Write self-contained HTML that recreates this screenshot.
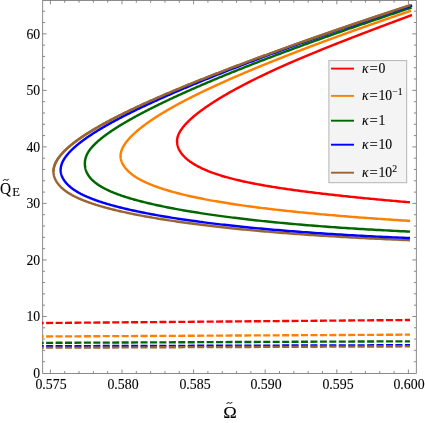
<!DOCTYPE html>
<html><head><meta charset="utf-8"><title>plot</title>
<style>
html,body{margin:0;padding:0;background:#fff;}
body{width:425px;height:423px;position:relative;overflow:hidden;font-family:"Liberation Serif",serif;color:#000;}
.t,.lg{will-change:transform;-webkit-text-stroke:0.1px #000;}
.t{position:absolute;white-space:nowrap;line-height:1;font-size:13.7px;}
.yl{text-align:right;width:40.1px;left:0;}
.xl{text-align:center;width:60px;font-size:13.85px;}
.lg{position:absolute;white-space:nowrap;line-height:1;font-size:13.7px;left:362px;}
.lg i{font-style:italic;}
.lg .eq{display:inline-block;margin:0 1.2px 0 1.0px;transform:scaleX(1.07);transform-origin:100% 50%;}
.lg sup{font-size:9.7px;position:relative;top:-0.1em;vertical-align:baseline;line-height:0;}
</style></head><body>
<svg width="425" height="423" viewBox="0 0 425 423" style="position:absolute;left:0;top:0">
<rect width="425" height="423" fill="#fff"/>
<clipPath id="cp"><rect x="42.0" y="0" width="374.6" height="373.45"/></clipPath>
<g stroke="#6e6e6e" stroke-width="0.8" fill="none">
<rect x="42.7" y="0.4" width="373.6" height="373.05"/>
<path d="M50.40,373.45 v-4.0 M50.40,0.4 v4.0 M64.72,373.45 v-2.4 M64.72,0.4 v2.4 M79.04,373.45 v-2.4 M79.04,0.4 v2.4 M93.36,373.45 v-2.4 M93.36,0.4 v2.4 M107.68,373.45 v-2.4 M107.68,0.4 v2.4 M122.00,373.45 v-4.0 M122.00,0.4 v4.0 M136.32,373.45 v-2.4 M136.32,0.4 v2.4 M150.64,373.45 v-2.4 M150.64,0.4 v2.4 M164.96,373.45 v-2.4 M164.96,0.4 v2.4 M179.28,373.45 v-2.4 M179.28,0.4 v2.4 M193.60,373.45 v-4.0 M193.60,0.4 v4.0 M207.92,373.45 v-2.4 M207.92,0.4 v2.4 M222.24,373.45 v-2.4 M222.24,0.4 v2.4 M236.56,373.45 v-2.4 M236.56,0.4 v2.4 M250.88,373.45 v-2.4 M250.88,0.4 v2.4 M265.20,373.45 v-4.0 M265.20,0.4 v4.0 M279.52,373.45 v-2.4 M279.52,0.4 v2.4 M293.84,373.45 v-2.4 M293.84,0.4 v2.4 M308.16,373.45 v-2.4 M308.16,0.4 v2.4 M322.48,373.45 v-2.4 M322.48,0.4 v2.4 M336.80,373.45 v-4.0 M336.80,0.4 v4.0 M351.12,373.45 v-2.4 M351.12,0.4 v2.4 M365.44,373.45 v-2.4 M365.44,0.4 v2.4 M379.76,373.45 v-2.4 M379.76,0.4 v2.4 M394.08,373.45 v-2.4 M394.08,0.4 v2.4 M408.40,373.45 v-4.0 M408.40,0.4 v4.0 M42.7,361.69 h2.4 M416.3,361.69 h-2.4 M42.7,350.39 h2.4 M416.3,350.39 h-2.4 M42.7,339.08 h2.4 M416.3,339.08 h-2.4 M42.7,327.78 h2.4 M416.3,327.78 h-2.4 M42.7,316.47 h4.0 M416.3,316.47 h-4.0 M42.7,305.16 h2.4 M416.3,305.16 h-2.4 M42.7,293.86 h2.4 M416.3,293.86 h-2.4 M42.7,282.55 h2.4 M416.3,282.55 h-2.4 M42.7,271.25 h2.4 M416.3,271.25 h-2.4 M42.7,259.94 h4.0 M416.3,259.94 h-4.0 M42.7,248.63 h2.4 M416.3,248.63 h-2.4 M42.7,237.33 h2.4 M416.3,237.33 h-2.4 M42.7,226.02 h2.4 M416.3,226.02 h-2.4 M42.7,214.72 h2.4 M416.3,214.72 h-2.4 M42.7,203.41 h4.0 M416.3,203.41 h-4.0 M42.7,192.10 h2.4 M416.3,192.10 h-2.4 M42.7,180.80 h2.4 M416.3,180.80 h-2.4 M42.7,169.49 h2.4 M416.3,169.49 h-2.4 M42.7,158.19 h2.4 M416.3,158.19 h-2.4 M42.7,146.88 h4.0 M416.3,146.88 h-4.0 M42.7,135.57 h2.4 M416.3,135.57 h-2.4 M42.7,124.27 h2.4 M416.3,124.27 h-2.4 M42.7,112.96 h2.4 M416.3,112.96 h-2.4 M42.7,101.66 h2.4 M416.3,101.66 h-2.4 M42.7,90.35 h4.0 M416.3,90.35 h-4.0 M42.7,79.04 h2.4 M416.3,79.04 h-2.4 M42.7,67.74 h2.4 M416.3,67.74 h-2.4 M42.7,56.43 h2.4 M416.3,56.43 h-2.4 M42.7,45.13 h2.4 M416.3,45.13 h-2.4 M42.7,33.82 h4.0 M416.3,33.82 h-4.0 M42.7,22.51 h2.4 M416.3,22.51 h-2.4 M42.7,11.21 h2.4 M416.3,11.21 h-2.4"/>
</g>
<g fill="none" stroke-width="2.45" stroke-linejoin="round" clip-path="url(#cp)">
<path d="M411.97,15.02 L410.90,15.42 L409.83,15.82 L408.76,16.21 L407.69,16.61 L406.63,17.00 L405.56,17.40 L404.49,17.80 L403.43,18.19 L402.36,18.59 L401.30,18.98 L400.24,19.38 L399.18,19.77 L398.12,20.17 L397.06,20.56 L396.01,20.95 L394.95,21.35 L393.90,21.74 L392.84,22.13 L391.79,22.53 L390.74,22.92 L389.69,23.31 L388.64,23.71 L387.59,24.10 L386.55,24.49 L385.50,24.88 L384.46,25.28 L383.41,25.67 L382.37,26.06 L381.33,26.45 L380.29,26.84 L379.26,27.23 L378.22,27.62 L377.19,28.01 L376.15,28.40 L375.12,28.79 L374.09,29.19 L373.06,29.57 L372.03,29.96 L371.01,30.35 L369.98,30.74 L368.96,31.13 L367.94,31.52 L366.92,31.91 L365.90,32.30 L364.88,32.69 L363.86,33.08 L362.85,33.46 L361.84,33.85 L360.82,34.24 L359.81,34.63 L358.81,35.01 L357.80,35.40 L356.79,35.79 L355.79,36.18 L354.79,36.56 L353.79,36.95 L352.79,37.34 L351.79,37.72 L350.79,38.11 L349.80,38.49 L348.81,38.88 L347.82,39.26 L346.83,39.65 L345.84,40.04 L344.86,40.42 L343.87,40.81 L342.89,41.19 L341.91,41.57 L340.93,41.96 L339.95,42.34 L338.98,42.73 L338.01,43.11 L337.03,43.49 L336.06,43.88 L335.10,44.26 L334.13,44.64 L333.17,45.03 L332.20,45.41 L331.24,45.79 L330.29,46.17 L329.33,46.56 L328.37,46.94 L327.42,47.32 L326.47,47.70 L325.52,48.08 L324.58,48.47 L323.63,48.85 L322.69,49.23 L321.75,49.61 L320.81,49.99 L319.87,50.37 L318.94,50.75 L318.00,51.13 L317.07,51.51 L316.14,51.89 L315.22,52.27 L314.29,52.65 L313.37,53.03 L312.45,53.41 L311.53,53.79 L310.62,54.17 L309.70,54.55 L308.79,54.93 L307.88,55.31 L306.97,55.68 L306.07,56.06 L305.17,56.44 L304.26,56.82 L303.37,57.20 L302.47,57.57 L301.58,57.95 L300.68,58.33 L299.79,58.71 L298.91,59.08 L298.02,59.46 L297.14,59.84 L296.26,60.21 L295.38,60.59 L294.51,60.97 L293.63,61.34 L292.76,61.72 L291.89,62.10 L291.03,62.47 L290.16,62.85 L289.30,63.22 L288.44,63.60 L287.59,63.97 L286.73,64.35 L285.88,64.72 L285.03,65.10 L284.18,65.47 L283.34,65.85 L282.50,66.22 L281.66,66.59 L280.82,66.97 L279.99,67.34 L279.16,67.72 L278.33,68.09 L277.50,68.46 L276.68,68.84 L275.86,69.21 L275.04,69.58 L274.22,69.96 L273.41,70.33 L272.60,70.70 L271.79,71.07 L270.98,71.45 L270.18,71.82 L269.38,72.19 L268.58,72.56 L267.79,72.94 L267.00,73.31 L266.21,73.68 L265.42,74.05 L264.64,74.42 L263.85,74.79 L263.08,75.16 L262.30,75.53 L261.53,75.91 L260.76,76.28 L259.99,76.65 L259.23,77.02 L258.46,77.39 L257.71,77.76 L256.95,78.13 L256.20,78.50 L255.45,78.87 L254.70,79.24 L253.95,79.61 L253.21,79.98 L252.47,80.34 L251.74,80.71 L251.00,81.08 L250.27,81.45 L249.55,81.82 L248.82,82.19 L248.10,82.56 L247.38,82.92 L246.67,83.29 L245.95,83.66 L245.24,84.03 L244.53,84.39 L243.83,84.76 L243.13,85.13 L242.43,85.49 L241.73,85.86 L241.04,86.23 L240.35,86.59 L239.67,86.96 L238.98,87.32 L238.30,87.69 L237.62,88.05 L236.95,88.42 L236.28,88.78 L235.61,89.15 L234.94,89.51 L234.28,89.88 L233.62,90.24 L232.96,90.60 L232.31,90.97 L231.66,91.33 L231.01,91.69 L230.36,92.05 L229.72,92.42 L229.08,92.78 L228.45,93.14 L227.82,93.50 L227.19,93.86 L226.56,94.22 L225.94,94.58 L225.32,94.94 L224.70,95.30 L224.09,95.66 L223.48,96.02 L222.87,96.38 L222.26,96.74 L221.66,97.10 L221.07,97.46 L220.47,97.82 L219.88,98.17 L219.29,98.53 L218.71,98.89 L218.13,99.25 L217.55,99.60 L216.97,99.96 L216.40,100.31 L215.83,100.67 L215.27,101.02 L214.71,101.38 L214.15,101.73 L213.59,102.09 L213.04,102.44 L212.49,102.79 L211.95,103.15 L211.41,103.50 L210.87,103.85 L210.33,104.21 L209.80,104.56 L209.28,104.91 L208.75,105.26 L208.23,105.61 L207.72,105.96 L207.20,106.31 L206.69,106.66 L206.19,107.01 L205.68,107.36 L205.18,107.71 L204.69,108.05 L204.20,108.40 L203.71,108.75 L203.22,109.10 L202.74,109.44 L202.27,109.79 L201.79,110.13 L201.32,110.48 L200.86,110.82 L200.40,111.17 L199.94,111.51 L199.48,111.86 L199.03,112.20 L198.59,112.54 L198.14,112.88 L197.70,113.23 L197.27,113.57 L196.84,113.91 L196.41,114.25 L195.99,114.59 L195.57,114.93 L195.15,115.27 L194.74,115.61 L194.34,115.94 L193.93,116.28 L193.53,116.62 L193.14,116.96 L192.75,117.29 L192.36,117.63 L191.98,117.96 L191.60,118.30 L191.23,118.63 L190.86,118.97 L190.49,119.30 L190.13,119.63 L189.77,119.97 L189.42,120.30 L189.07,120.63 L188.73,120.96 L188.39,121.29 L188.05,121.62 L187.72,121.95 L187.40,122.28 L187.08,122.61 L186.76,122.94 L186.45,123.26 L186.14,123.59 L185.84,123.92 L185.54,124.24 L185.24,124.57 L184.95,124.89 L184.67,125.22 L184.39,125.54 L184.11,125.87 L183.84,126.19 L183.58,126.51 L183.32,126.83 L183.06,127.15 L182.81,127.47 L182.56,127.79 L182.32,128.11 L182.08,128.43 L181.85,128.75 L181.63,129.07 L181.41,129.38 L181.19,129.70 L180.98,130.02 L180.77,130.33 L180.57,130.65 L180.38,130.96 L180.19,131.27 L180.00,131.59 L179.82,131.90 L179.65,132.21 L179.48,132.52 L179.31,132.83 L179.16,133.14 L179.00,133.45 L178.86,133.76 L178.71,134.07 L178.58,134.38 L178.45,134.68 L178.32,134.99 L178.20,135.30 L178.09,135.60 L177.98,135.90 L177.88,136.21 L177.78,136.51 L177.69,136.81 L177.61,137.12 L177.53,137.42 L177.45,137.72 L177.39,138.02 L177.33,138.32 L177.27,138.61 L177.22,138.91 L177.18,139.21 L177.14,139.51 L177.11,139.81 L177.09,140.11 L177.07,140.41 L177.06,140.71 L177.05,141.01 L177.05,141.32 L177.06,141.62 L177.07,141.92 L177.08,142.23 L177.11,142.54 L177.14,142.85 L177.17,143.16 L177.21,143.47 L177.25,143.78 L177.30,144.09 L177.36,144.40 L177.42,144.71 L177.49,145.03 L177.56,145.34 L177.64,145.65 L177.72,145.97 L177.81,146.28 L177.90,146.59 L178.00,146.91 L178.11,147.22 L178.22,147.53 L178.33,147.84 L178.45,148.15 L178.58,148.46 L178.72,148.77 L178.85,149.08 L179.00,149.39 L179.15,149.70 L179.31,150.00 L179.47,150.31 L179.64,150.62 L179.81,150.92 L180.00,151.23 L180.18,151.54 L180.38,151.84 L180.57,152.15 L180.78,152.45 L180.99,152.75 L181.21,153.06 L181.43,153.36 L181.66,153.67 L181.90,153.97 L182.14,154.27 L182.39,154.57 L182.64,154.88 L182.91,155.18 L183.17,155.48 L183.45,155.78 L183.73,156.08 L184.01,156.38 L184.31,156.68 L184.61,156.98 L184.91,157.28 L185.23,157.58 L185.55,157.88 L185.87,158.18 L186.21,158.48 L186.55,158.77 L186.89,159.07 L187.25,159.37 L187.61,159.66 L187.97,159.96 L188.35,160.25 L188.73,160.55 L189.12,160.84 L189.51,161.14 L189.91,161.43 L190.32,161.72 L190.74,162.02 L191.16,162.31 L191.59,162.60 L192.03,162.89 L192.47,163.18 L192.93,163.47 L193.38,163.76 L193.85,164.05 L194.32,164.33 L194.81,164.62 L195.29,164.91 L195.79,165.19 L196.29,165.48 L196.80,165.76 L197.32,166.05 L197.85,166.33 L198.38,166.61 L198.92,166.89 L199.47,167.17 L200.03,167.45 L200.60,167.73 L201.17,168.01 L201.75,168.29 L202.34,168.57 L202.93,168.84 L203.54,169.12 L204.15,169.39 L204.77,169.67 L205.40,169.94 L206.04,170.21 L206.68,170.48 L207.33,170.75 L207.99,171.02 L208.66,171.29 L209.34,171.56 L210.03,171.83 L210.72,172.09 L211.43,172.36 L212.14,172.62 L212.86,172.88 L213.59,173.14 L214.32,173.40 L215.07,173.66 L215.83,173.92 L216.59,174.18 L217.36,174.44 L218.14,174.69 L218.93,174.95 L219.73,175.20 L220.54,175.45 L221.36,175.71 L222.18,175.96 L223.02,176.21 L223.86,176.45 L224.72,176.70 L225.58,176.95 L226.45,177.19 L227.33,177.44 L228.22,177.68 L229.12,177.92 L230.03,178.17 L230.95,178.41 L231.87,178.65 L232.81,178.88 L233.76,179.12 L234.71,179.36 L235.68,179.59 L236.65,179.83 L237.63,180.06 L238.63,180.30 L239.63,180.53 L240.64,180.76 L241.66,180.99 L242.69,181.22 L243.73,181.45 L244.78,181.68 L245.84,181.90 L246.91,182.13 L247.99,182.36 L249.08,182.58 L250.18,182.80 L251.28,183.03 L252.40,183.25 L253.53,183.47 L254.67,183.69 L255.81,183.91 L256.97,184.13 L258.14,184.35 L259.31,184.57 L260.50,184.78 L261.69,185.00 L262.90,185.21 L264.11,185.43 L265.34,185.64 L266.57,185.86 L267.82,186.07 L269.07,186.28 L270.34,186.49 L271.61,186.70 L272.90,186.91 L274.19,187.12 L275.50,187.33 L276.81,187.54 L278.14,187.74 L279.47,187.95 L280.81,188.15 L282.17,188.36 L283.53,188.56 L284.91,188.77 L286.29,188.97 L287.69,189.17 L289.09,189.38 L290.50,189.58 L291.93,189.78 L293.36,189.98 L294.81,190.18 L296.26,190.38 L297.73,190.58 L299.20,190.78 L300.68,190.97 L302.18,191.17 L303.68,191.37 L305.20,191.56 L306.72,191.76 L308.26,191.95 L309.80,192.15 L311.36,192.34 L312.92,192.54 L314.49,192.73 L316.08,192.92 L317.67,193.12 L319.28,193.31 L320.89,193.50 L322.52,193.69 L324.15,193.88 L325.80,194.07 L327.45,194.26 L329.12,194.45 L330.79,194.64 L332.47,194.83 L334.17,195.02 L335.87,195.20 L337.59,195.39 L339.31,195.58 L341.05,195.77 L342.79,195.95 L344.54,196.14 L346.31,196.33 L348.08,196.51 L349.86,196.70 L351.66,196.88 L353.46,197.07 L355.27,197.25 L357.10,197.44 L358.93,197.62 L360.77,197.80 L362.62,197.99 L364.48,198.17 L366.36,198.35 L368.24,198.54 L370.13,198.72 L372.03,198.90 L373.94,199.08 L375.86,199.26 L377.79,199.45 L379.73,199.63 L381.68,199.81 L383.63,199.99 L385.60,200.17 L387.58,200.35 L389.57,200.53 L391.56,200.71 L393.57,200.89 L395.58,201.07 L397.61,201.25 L399.64,201.43 L401.68,201.61 L403.74,201.79 L405.80,201.97 L407.87,202.15 L409.95,202.33" stroke="#ff0000"/>
<path d="M410.98,10.76 L409.66,11.21 L408.35,11.65 L407.03,12.10 L405.72,12.54 L404.41,12.99 L403.10,13.43 L401.79,13.88 L400.49,14.32 L399.18,14.76 L397.88,15.21 L396.58,15.65 L395.29,16.10 L393.99,16.54 L392.70,16.99 L391.41,17.43 L390.12,17.87 L388.83,18.32 L387.54,18.76 L386.26,19.20 L384.98,19.65 L383.70,20.09 L382.42,20.53 L381.15,20.98 L379.87,21.42 L378.60,21.86 L377.33,22.31 L376.07,22.75 L374.80,23.19 L373.54,23.63 L372.28,24.08 L371.02,24.52 L369.76,24.96 L368.50,25.40 L367.25,25.84 L366.00,26.28 L364.75,26.73 L363.50,27.17 L362.26,27.61 L361.02,28.05 L359.78,28.49 L358.54,28.93 L357.30,29.37 L356.07,29.81 L354.83,30.25 L353.60,30.69 L352.37,31.13 L351.15,31.57 L349.92,32.01 L348.70,32.45 L347.48,32.89 L346.26,33.33 L345.05,33.77 L343.84,34.21 L342.62,34.65 L341.41,35.09 L340.21,35.53 L339.00,35.97 L337.80,36.40 L336.60,36.84 L335.40,37.28 L334.20,37.72 L333.01,38.16 L331.82,38.59 L330.63,39.03 L329.44,39.47 L328.25,39.91 L327.07,40.34 L325.89,40.78 L324.71,41.22 L323.53,41.65 L322.36,42.09 L321.19,42.53 L320.02,42.96 L318.85,43.40 L317.68,43.84 L316.52,44.27 L315.36,44.71 L314.20,45.14 L313.04,45.58 L311.89,46.01 L310.74,46.45 L309.59,46.88 L308.44,47.32 L307.30,47.75 L306.15,48.19 L305.01,48.62 L303.87,49.05 L302.74,49.49 L301.60,49.92 L300.47,50.35 L299.34,50.79 L298.22,51.22 L297.09,51.65 L295.97,52.09 L294.85,52.52 L293.73,52.95 L292.62,53.38 L291.51,53.81 L290.40,54.25 L289.29,54.68 L288.18,55.11 L287.08,55.54 L285.98,55.97 L284.88,56.40 L283.79,56.83 L282.69,57.27 L281.60,57.70 L280.51,58.13 L279.43,58.56 L278.34,58.99 L277.26,59.42 L276.18,59.85 L275.11,60.27 L274.03,60.70 L272.96,61.13 L271.89,61.56 L270.83,61.99 L269.76,62.42 L268.70,62.85 L267.64,63.28 L266.59,63.70 L265.53,64.13 L264.48,64.56 L263.43,64.99 L262.39,65.41 L261.34,65.84 L260.30,66.27 L259.26,66.69 L258.23,67.12 L257.19,67.55 L256.16,67.97 L255.14,68.40 L254.11,68.83 L253.09,69.25 L252.07,69.68 L251.05,70.10 L250.04,70.53 L249.02,70.95 L248.01,71.38 L247.01,71.80 L246.00,72.23 L245.00,72.65 L244.00,73.07 L243.01,73.50 L242.02,73.92 L241.03,74.34 L240.04,74.77 L239.05,75.19 L238.07,75.61 L237.09,76.03 L236.12,76.46 L235.14,76.88 L234.17,77.30 L233.21,77.72 L232.24,78.14 L231.28,78.57 L230.32,78.99 L229.37,79.41 L228.41,79.83 L227.46,80.25 L226.52,80.67 L225.57,81.09 L224.63,81.51 L223.69,81.93 L222.76,82.35 L221.83,82.77 L220.90,83.19 L219.97,83.61 L219.05,84.02 L218.13,84.44 L217.21,84.86 L216.30,85.28 L215.39,85.70 L214.48,86.11 L213.58,86.53 L212.68,86.95 L211.78,87.36 L210.89,87.78 L210.00,88.20 L209.11,88.61 L208.23,89.03 L207.35,89.44 L206.47,89.86 L205.59,90.27 L204.72,90.69 L203.86,91.10 L202.99,91.52 L202.13,91.93 L201.27,92.35 L200.42,92.76 L199.57,93.17 L198.72,93.59 L197.88,94.00 L197.04,94.41 L196.20,94.82 L195.37,95.24 L194.54,95.65 L193.71,96.06 L192.89,96.47 L192.07,96.88 L191.26,97.29 L190.45,97.70 L189.64,98.11 L188.83,98.52 L188.03,98.93 L187.24,99.34 L186.44,99.75 L185.65,100.16 L184.87,100.57 L184.09,100.98 L183.31,101.38 L182.53,101.79 L181.76,102.20 L181.00,102.61 L180.23,103.01 L179.48,103.42 L178.72,103.83 L177.97,104.23 L177.22,104.64 L176.48,105.04 L175.74,105.45 L175.00,105.85 L174.27,106.26 L173.55,106.66 L172.82,107.06 L172.10,107.47 L171.39,107.87 L170.68,108.27 L169.97,108.68 L169.27,109.08 L168.57,109.48 L167.87,109.88 L167.18,110.28 L166.50,110.69 L165.82,111.09 L165.14,111.49 L164.47,111.89 L163.80,112.29 L163.13,112.69 L162.47,113.09 L161.81,113.48 L161.16,113.88 L160.51,114.28 L159.87,114.68 L159.23,115.08 L158.60,115.47 L157.97,115.87 L157.34,116.27 L156.72,116.66 L156.11,117.06 L155.49,117.46 L154.89,117.85 L154.28,118.25 L153.68,118.64 L153.09,119.03 L152.50,119.43 L151.92,119.82 L151.33,120.21 L150.76,120.61 L150.19,121.00 L149.62,121.39 L149.06,121.78 L148.50,122.17 L147.95,122.56 L147.40,122.95 L146.86,123.34 L146.32,123.73 L145.79,124.12 L145.26,124.51 L144.73,124.90 L144.21,125.28 L143.70,125.67 L143.19,126.06 L142.68,126.44 L142.18,126.83 L141.69,127.21 L141.20,127.60 L140.71,127.98 L140.23,128.37 L139.76,128.75 L139.29,129.13 L138.82,129.52 L138.36,129.90 L137.91,130.28 L137.46,130.66 L137.01,131.04 L136.57,131.42 L136.14,131.80 L135.71,132.18 L135.29,132.56 L134.87,132.93 L134.45,133.31 L134.05,133.69 L133.64,134.06 L133.25,134.44 L132.85,134.81 L132.47,135.19 L132.09,135.56 L131.71,135.93 L131.34,136.31 L130.98,136.68 L130.62,137.05 L130.26,137.42 L129.92,137.79 L129.58,138.16 L129.24,138.53 L128.91,138.90 L128.58,139.27 L128.27,139.63 L127.95,140.00 L127.65,140.37 L127.34,140.73 L127.05,141.10 L126.76,141.46 L126.48,141.83 L126.20,142.19 L125.93,142.55 L125.66,142.91 L125.40,143.27 L125.15,143.63 L124.91,143.99 L124.67,144.35 L124.43,144.71 L124.21,145.07 L123.98,145.43 L123.77,145.78 L123.56,146.14 L123.36,146.49 L123.17,146.85 L122.98,147.20 L122.80,147.55 L122.62,147.91 L122.45,148.26 L122.29,148.61 L122.14,148.96 L121.99,149.31 L121.85,149.65 L121.71,150.00 L121.59,150.35 L121.47,150.70 L121.36,151.04 L121.25,151.39 L121.15,151.73 L121.06,152.07 L120.98,152.42 L120.90,152.76 L120.83,153.10 L120.77,153.44 L120.72,153.78 L120.67,154.12 L120.63,154.46 L120.60,154.80 L120.58,155.14 L120.56,155.47 L120.55,155.81 L120.55,156.15 L120.56,156.49 L120.57,156.82 L120.60,157.16 L120.63,157.50 L120.66,157.83 L120.71,158.17 L120.76,158.51 L120.82,158.84 L120.89,159.18 L120.97,159.51 L121.06,159.85 L121.15,160.19 L121.25,160.52 L121.36,160.86 L121.47,161.19 L121.59,161.53 L121.72,161.87 L121.86,162.21 L122.01,162.54 L122.16,162.88 L122.32,163.22 L122.49,163.56 L122.67,163.90 L122.85,164.24 L123.04,164.57 L123.24,164.91 L123.45,165.25 L123.66,165.59 L123.88,165.93 L124.11,166.27 L124.34,166.61 L124.59,166.95 L124.84,167.29 L125.10,167.63 L125.36,167.97 L125.63,168.31 L125.92,168.65 L126.20,168.99 L126.50,169.32 L126.81,169.66 L127.12,170.00 L127.44,170.34 L127.76,170.67 L128.10,171.01 L128.44,171.34 L128.80,171.68 L129.16,172.01 L129.52,172.35 L129.90,172.68 L130.28,173.01 L130.68,173.35 L131.08,173.68 L131.49,174.01 L131.90,174.34 L132.33,174.67 L132.77,174.99 L133.21,175.32 L133.66,175.65 L134.12,175.97 L134.60,176.29 L135.08,176.62 L135.56,176.94 L136.06,177.26 L136.57,177.58 L137.09,177.90 L137.62,178.21 L138.15,178.53 L138.70,178.84 L139.25,179.16 L139.82,179.47 L140.40,179.78 L140.98,180.09 L141.58,180.40 L142.18,180.71 L142.80,181.01 L143.42,181.32 L144.06,181.63 L144.70,181.93 L145.36,182.23 L146.02,182.54 L146.70,182.84 L147.38,183.14 L148.08,183.44 L148.78,183.74 L149.50,184.04 L150.22,184.33 L150.96,184.63 L151.70,184.93 L152.46,185.23 L153.22,185.52 L154.00,185.82 L154.78,186.11 L155.58,186.40 L156.39,186.70 L157.20,186.99 L158.03,187.28 L158.87,187.57 L159.71,187.87 L160.57,188.16 L161.44,188.44 L162.32,188.73 L163.21,189.02 L164.11,189.31 L165.02,189.60 L165.94,189.88 L166.87,190.17 L167.82,190.45 L168.77,190.73 L169.73,191.02 L170.71,191.30 L171.70,191.58 L172.69,191.86 L173.70,192.14 L174.72,192.42 L175.75,192.69 L176.79,192.97 L177.85,193.25 L178.91,193.52 L179.99,193.80 L181.07,194.07 L182.17,194.34 L183.28,194.61 L184.40,194.88 L185.54,195.15 L186.68,195.42 L187.84,195.69 L189.00,195.95 L190.18,196.22 L191.37,196.48 L192.57,196.75 L193.79,197.01 L195.01,197.27 L196.25,197.53 L197.50,197.79 L198.76,198.05 L200.03,198.31 L201.32,198.56 L202.62,198.82 L203.93,199.08 L205.25,199.33 L206.58,199.58 L207.92,199.84 L209.28,200.09 L210.65,200.34 L212.03,200.59 L213.42,200.84 L214.83,201.09 L216.25,201.33 L217.68,201.58 L219.12,201.82 L220.57,202.07 L222.04,202.31 L223.52,202.55 L225.01,202.80 L226.51,203.04 L228.03,203.28 L229.56,203.52 L231.10,203.75 L232.66,203.99 L234.22,204.23 L235.80,204.46 L237.39,204.70 L239.00,204.93 L240.61,205.16 L242.24,205.40 L243.89,205.63 L245.54,205.86 L247.21,206.09 L248.89,206.32 L250.58,206.54 L252.29,206.77 L254.01,207.00 L255.74,207.22 L257.49,207.45 L259.25,207.67 L261.02,207.89 L262.80,208.11 L264.60,208.33 L266.41,208.55 L268.23,208.77 L270.07,208.99 L271.92,209.21 L273.78,209.43 L275.65,209.64 L277.54,209.86 L279.44,210.07 L281.36,210.28 L283.29,210.50 L285.23,210.71 L287.18,210.92 L289.15,211.13 L291.13,211.34 L293.13,211.54 L295.13,211.75 L297.16,211.96 L299.19,212.16 L301.24,212.37 L303.30,212.57 L305.37,212.78 L307.46,212.98 L309.56,213.18 L311.68,213.38 L313.81,213.58 L315.95,213.78 L318.11,213.98 L320.28,214.18 L322.46,214.37 L324.65,214.57 L326.86,214.76 L329.09,214.96 L331.33,215.15 L333.58,215.34 L335.84,215.54 L338.12,215.73 L340.41,215.92 L342.72,216.11 L345.04,216.30 L347.37,216.48 L349.71,216.67 L352.08,216.86 L354.45,217.04 L356.84,217.23 L359.24,217.41 L361.65,217.60 L364.08,217.78 L366.53,217.96 L368.98,218.14 L371.45,218.32 L373.94,218.50 L376.44,218.68 L378.95,218.86 L381.48,219.03 L384.02,219.21 L386.57,219.39 L389.14,219.56 L391.72,219.73 L394.32,219.91 L396.93,220.08 L399.55,220.25 L402.19,220.42 L404.84,220.59 L407.50,220.76 L410.18,220.93" stroke="#ff7f00"/>
<path d="M411.55,7.51 L410.11,7.99 L408.67,8.47 L407.23,8.95 L405.80,9.42 L404.36,9.90 L402.93,10.38 L401.50,10.86 L400.07,11.34 L398.64,11.82 L397.22,12.30 L395.79,12.77 L394.37,13.25 L392.95,13.73 L391.53,14.21 L390.12,14.68 L388.71,15.16 L387.29,15.64 L385.88,16.11 L384.48,16.59 L383.07,17.07 L381.66,17.54 L380.26,18.02 L378.86,18.50 L377.46,18.97 L376.07,19.45 L374.67,19.92 L373.28,20.40 L371.89,20.88 L370.50,21.35 L369.11,21.83 L367.73,22.30 L366.35,22.78 L364.96,23.25 L363.59,23.73 L362.21,24.20 L360.83,24.67 L359.46,25.15 L358.09,25.62 L356.72,26.10 L355.35,26.57 L353.99,27.04 L352.63,27.52 L351.27,27.99 L349.91,28.46 L348.55,28.94 L347.20,29.41 L345.84,29.88 L344.49,30.35 L343.14,30.83 L341.80,31.30 L340.45,31.77 L339.11,32.24 L337.77,32.71 L336.43,33.18 L335.10,33.66 L333.76,34.13 L332.43,34.60 L331.10,35.07 L329.77,35.54 L328.45,36.01 L327.13,36.48 L325.81,36.95 L324.49,37.42 L323.17,37.89 L321.86,38.36 L320.54,38.83 L319.23,39.30 L317.93,39.77 L316.62,40.24 L315.32,40.71 L314.01,41.18 L312.72,41.64 L311.42,42.11 L310.12,42.58 L308.83,43.05 L307.54,43.52 L306.25,43.99 L304.97,44.45 L303.69,44.92 L302.41,45.39 L301.13,45.85 L299.85,46.32 L298.58,46.79 L297.31,47.26 L296.04,47.72 L294.77,48.19 L293.50,48.65 L292.24,49.12 L290.98,49.59 L289.73,50.05 L288.47,50.52 L287.22,50.98 L285.97,51.45 L284.72,51.91 L283.47,52.38 L282.23,52.84 L280.99,53.31 L279.75,53.77 L278.52,54.24 L277.28,54.70 L276.05,55.16 L274.83,55.63 L273.60,56.09 L272.38,56.55 L271.16,57.02 L269.94,57.48 L268.72,57.94 L267.51,58.41 L266.30,58.87 L265.09,59.33 L263.89,59.79 L262.69,60.25 L261.49,60.72 L260.29,61.18 L259.09,61.64 L257.90,62.10 L256.71,62.56 L255.53,63.02 L254.34,63.48 L253.16,63.94 L251.98,64.40 L250.81,64.86 L249.63,65.32 L248.46,65.78 L247.29,66.24 L246.13,66.70 L244.97,67.16 L243.81,67.62 L242.65,68.08 L241.50,68.54 L240.35,69.00 L239.20,69.46 L238.05,69.91 L236.91,70.37 L235.77,70.83 L234.63,71.29 L233.50,71.75 L232.37,72.20 L231.24,72.66 L230.12,73.12 L228.99,73.57 L227.87,74.03 L226.76,74.49 L225.64,74.94 L224.53,75.40 L223.43,75.85 L222.32,76.31 L221.22,76.76 L220.12,77.22 L219.02,77.67 L217.93,78.13 L216.84,78.58 L215.75,79.04 L214.67,79.49 L213.59,79.94 L212.51,80.40 L211.44,80.85 L210.36,81.30 L209.30,81.76 L208.23,82.21 L207.17,82.66 L206.11,83.11 L205.05,83.56 L204.00,84.02 L202.95,84.47 L201.90,84.92 L200.86,85.37 L199.81,85.82 L198.78,86.27 L197.74,86.72 L196.71,87.17 L195.68,87.62 L194.66,88.06 L193.64,88.51 L192.62,88.96 L191.60,89.41 L190.59,89.86 L189.58,90.30 L188.58,90.75 L187.57,91.20 L186.58,91.64 L185.58,92.09 L184.59,92.54 L183.60,92.98 L182.61,93.43 L181.63,93.87 L180.65,94.31 L179.68,94.76 L178.71,95.20 L177.74,95.65 L176.77,96.09 L175.81,96.53 L174.86,96.97 L173.90,97.42 L172.95,97.86 L172.00,98.30 L171.06,98.74 L170.12,99.18 L169.18,99.62 L168.25,100.06 L167.32,100.50 L166.40,100.94 L165.48,101.38 L164.56,101.81 L163.64,102.25 L162.73,102.69 L161.83,103.13 L160.92,103.56 L160.03,104.00 L159.13,104.44 L158.24,104.87 L157.35,105.31 L156.47,105.74 L155.59,106.17 L154.71,106.61 L153.84,107.04 L152.97,107.48 L152.11,107.91 L151.25,108.34 L150.39,108.77 L149.54,109.20 L148.69,109.63 L147.85,110.06 L147.01,110.49 L146.18,110.92 L145.35,111.35 L144.52,111.78 L143.70,112.21 L142.88,112.64 L142.06,113.06 L141.25,113.49 L140.45,113.92 L139.65,114.34 L138.85,114.77 L138.06,115.19 L137.27,115.62 L136.49,116.04 L135.71,116.47 L134.94,116.89 L134.17,117.31 L133.40,117.73 L132.64,118.16 L131.88,118.58 L131.13,119.00 L130.39,119.42 L129.64,119.84 L128.91,120.26 L128.18,120.68 L127.45,121.09 L126.72,121.51 L126.01,121.93 L125.29,122.35 L124.59,122.76 L123.88,123.18 L123.18,123.59 L122.49,124.01 L121.80,124.42 L121.12,124.84 L120.44,125.25 L119.77,125.66 L119.10,126.07 L118.44,126.48 L117.78,126.90 L117.13,127.31 L116.48,127.72 L115.84,128.12 L115.21,128.53 L114.58,128.94 L113.95,129.35 L113.33,129.76 L112.72,130.16 L112.11,130.57 L111.51,130.97 L110.91,131.38 L110.32,131.78 L109.73,132.19 L109.15,132.59 L108.58,132.99 L108.01,133.39 L107.44,133.80 L106.89,134.20 L106.34,134.60 L105.79,135.00 L105.25,135.40 L104.72,135.79 L104.19,136.19 L103.67,136.59 L103.15,136.99 L102.65,137.38 L102.14,137.78 L101.65,138.17 L101.16,138.57 L100.67,138.96 L100.19,139.35 L99.72,139.75 L99.26,140.14 L98.80,140.53 L98.35,140.92 L97.90,141.31 L97.46,141.70 L97.03,142.09 L96.61,142.47 L96.19,142.86 L95.78,143.25 L95.37,143.63 L94.97,144.02 L94.58,144.40 L94.20,144.79 L93.82,145.17 L93.45,145.55 L93.09,145.94 L92.73,146.32 L92.38,146.70 L92.04,147.08 L91.71,147.46 L91.38,147.84 L91.06,148.22 L90.75,148.60 L90.45,148.98 L90.16,149.36 L89.87,149.74 L89.59,150.11 L89.32,150.49 L89.06,150.87 L88.80,151.25 L88.55,151.63 L88.32,152.01 L88.08,152.39 L87.86,152.77 L87.65,153.15 L87.44,153.53 L87.24,153.91 L87.05,154.29 L86.87,154.68 L86.70,155.06 L86.53,155.44 L86.37,155.83 L86.23,156.21 L86.08,156.60 L85.95,156.98 L85.82,157.37 L85.71,157.75 L85.60,158.14 L85.49,158.52 L85.40,158.91 L85.31,159.30 L85.23,159.69 L85.16,160.08 L85.09,160.46 L85.04,160.85 L84.99,161.24 L84.95,161.63 L84.91,162.02 L84.89,162.41 L84.87,162.80 L84.85,163.19 L84.85,163.58 L84.85,163.97 L84.86,164.36 L84.88,164.75 L84.91,165.14 L84.94,165.53 L84.98,165.92 L85.02,166.31 L85.08,166.70 L85.14,167.09 L85.21,167.48 L85.29,167.87 L85.37,168.26 L85.46,168.65 L85.56,169.04 L85.67,169.42 L85.78,169.81 L85.90,170.20 L86.03,170.58 L86.17,170.96 L86.32,171.35 L86.47,171.73 L86.63,172.11 L86.80,172.49 L86.98,172.86 L87.17,173.24 L87.36,173.61 L87.56,173.99 L87.78,174.36 L88.00,174.73 L88.23,175.10 L88.46,175.47 L88.71,175.84 L88.97,176.20 L89.23,176.57 L89.51,176.93 L89.79,177.29 L90.08,177.65 L90.38,178.01 L90.69,178.37 L91.01,178.73 L91.34,179.09 L91.68,179.44 L92.03,179.80 L92.39,180.15 L92.76,180.50 L93.14,180.85 L93.53,181.20 L93.92,181.55 L94.33,181.90 L94.75,182.24 L95.18,182.59 L95.62,182.93 L96.07,183.27 L96.53,183.61 L97.00,183.96 L97.48,184.29 L97.97,184.63 L98.47,184.97 L98.98,185.31 L99.50,185.64 L100.04,185.98 L100.58,186.31 L101.14,186.64 L101.70,186.97 L102.28,187.30 L102.87,187.63 L103.47,187.96 L104.08,188.29 L104.70,188.61 L105.34,188.94 L105.98,189.26 L106.64,189.59 L107.30,189.91 L107.98,190.23 L108.67,190.55 L109.38,190.87 L110.09,191.19 L110.82,191.51 L111.55,191.82 L112.30,192.14 L113.06,192.45 L113.83,192.77 L114.62,193.08 L115.42,193.39 L116.22,193.70 L117.04,194.02 L117.88,194.32 L118.72,194.63 L119.58,194.94 L120.44,195.25 L121.32,195.55 L122.22,195.86 L123.12,196.16 L124.04,196.47 L124.97,196.77 L125.91,197.07 L126.86,197.37 L127.83,197.68 L128.80,197.97 L129.79,198.27 L130.80,198.57 L131.81,198.87 L132.84,199.17 L133.88,199.46 L134.93,199.76 L136.00,200.05 L137.07,200.34 L138.16,200.64 L139.27,200.93 L140.38,201.22 L141.51,201.51 L142.65,201.80 L143.80,202.09 L144.96,202.38 L146.14,202.67 L147.33,202.95 L148.53,203.24 L149.75,203.53 L150.97,203.81 L152.21,204.10 L153.46,204.38 L154.73,204.66 L156.01,204.95 L157.30,205.23 L158.60,205.51 L159.91,205.79 L161.24,206.07 L162.58,206.35 L163.93,206.63 L165.30,206.90 L166.68,207.18 L168.07,207.46 L169.47,207.73 L170.89,208.01 L172.32,208.28 L173.76,208.56 L175.22,208.83 L176.68,209.10 L178.17,209.37 L179.66,209.64 L181.17,209.91 L182.69,210.18 L184.22,210.45 L185.77,210.72 L187.33,210.98 L188.90,211.25 L190.49,211.51 L192.09,211.78 L193.71,212.04 L195.33,212.30 L196.98,212.57 L198.63,212.83 L200.30,213.09 L201.98,213.35 L203.68,213.60 L205.39,213.86 L207.11,214.12 L208.85,214.37 L210.60,214.63 L212.37,214.88 L214.15,215.13 L215.94,215.38 L217.75,215.63 L219.57,215.88 L221.41,216.13 L223.26,216.38 L225.12,216.62 L227.00,216.87 L228.89,217.11 L230.80,217.36 L232.72,217.60 L234.66,217.84 L236.61,218.08 L238.58,218.32 L240.56,218.56 L242.56,218.80 L244.57,219.03 L246.59,219.27 L248.63,219.50 L250.69,219.73 L252.76,219.97 L254.85,220.20 L256.95,220.42 L259.06,220.65 L261.19,220.88 L263.34,221.11 L265.50,221.33 L267.68,221.55 L269.88,221.78 L272.08,222.00 L274.31,222.22 L276.55,222.44 L278.81,222.65 L281.08,222.87 L283.37,223.08 L285.67,223.30 L287.99,223.51 L290.33,223.72 L292.68,223.93 L295.05,224.14 L297.43,224.35 L299.83,224.55 L302.25,224.76 L304.68,224.96 L307.13,225.16 L309.60,225.36 L312.09,225.56 L314.59,225.76 L317.10,225.96 L319.64,226.15 L322.19,226.35 L324.76,226.54 L327.34,226.73 L329.94,226.92 L332.56,227.11 L335.20,227.29 L337.86,227.48 L340.53,227.66 L343.22,227.85 L345.92,228.03 L348.65,228.21 L351.39,228.38 L354.15,228.56 L356.93,228.74 L359.72,228.91 L362.54,229.08 L365.37,229.25 L368.22,229.42 L371.09,229.59 L373.98,229.75 L376.88,229.92 L379.81,230.08 L382.75,230.24 L385.71,230.40 L388.69,230.56 L391.69,230.72 L394.71,230.87 L397.74,231.03 L400.80,231.18 L403.87,231.33 L406.97,231.48 L410.08,231.62" stroke="#006600"/>
<path d="M410.60,5.17 L409.07,5.67 L407.54,6.18 L406.01,6.68 L404.48,7.19 L402.95,7.69 L401.42,8.20 L399.90,8.70 L398.37,9.20 L396.85,9.71 L395.33,10.21 L393.81,10.71 L392.29,11.22 L390.78,11.72 L389.27,12.22 L387.75,12.73 L386.24,13.23 L384.73,13.73 L383.23,14.24 L381.72,14.74 L380.22,15.24 L378.71,15.75 L377.21,16.25 L375.72,16.75 L374.22,17.25 L372.72,17.76 L371.23,18.26 L369.74,18.76 L368.25,19.26 L366.76,19.76 L365.27,20.27 L363.79,20.77 L362.30,21.27 L360.82,21.77 L359.34,22.27 L357.86,22.77 L356.39,23.27 L354.91,23.77 L353.44,24.28 L351.97,24.78 L350.50,25.28 L349.03,25.78 L347.57,26.28 L346.10,26.78 L344.64,27.28 L343.18,27.78 L341.72,28.28 L340.27,28.78 L338.81,29.28 L337.36,29.78 L335.91,30.28 L334.46,30.78 L333.01,31.27 L331.57,31.77 L330.12,32.27 L328.68,32.77 L327.24,33.27 L325.81,33.77 L324.37,34.27 L322.94,34.76 L321.51,35.26 L320.08,35.76 L318.65,36.26 L317.22,36.75 L315.80,37.25 L314.38,37.75 L312.96,38.24 L311.54,38.74 L310.13,39.24 L308.71,39.73 L307.30,40.23 L305.89,40.73 L304.49,41.22 L303.08,41.72 L301.68,42.21 L300.28,42.71 L298.88,43.20 L297.48,43.70 L296.09,44.19 L294.70,44.69 L293.31,45.18 L291.92,45.68 L290.53,46.17 L289.15,46.67 L287.77,47.16 L286.39,47.65 L285.01,48.15 L283.64,48.64 L282.27,49.13 L280.90,49.63 L279.53,50.12 L278.17,50.61 L276.80,51.10 L275.44,51.59 L274.08,52.09 L272.73,52.58 L271.37,53.07 L270.02,53.56 L268.67,54.05 L267.33,54.54 L265.98,55.03 L264.64,55.52 L263.30,56.01 L261.97,56.50 L260.63,56.99 L259.30,57.48 L257.97,57.97 L256.64,58.46 L255.32,58.95 L254.00,59.44 L252.68,59.93 L251.36,60.42 L250.05,60.90 L248.74,61.39 L247.43,61.88 L246.12,62.37 L244.82,62.85 L243.52,63.34 L242.22,63.83 L240.92,64.31 L239.63,64.80 L238.34,65.29 L237.05,65.77 L235.77,66.26 L234.48,66.74 L233.20,67.23 L231.93,67.71 L230.65,68.20 L229.38,68.68 L228.11,69.16 L226.85,69.65 L225.59,70.13 L224.33,70.62 L223.07,71.10 L221.81,71.58 L220.56,72.06 L219.31,72.55 L218.07,73.03 L216.83,73.51 L215.59,73.99 L214.35,74.47 L213.12,74.95 L211.89,75.43 L210.66,75.91 L209.43,76.39 L208.21,76.87 L206.99,77.35 L205.78,77.83 L204.57,78.31 L203.36,78.79 L202.15,79.27 L200.95,79.75 L199.75,80.22 L198.55,80.70 L197.36,81.18 L196.17,81.66 L194.98,82.13 L193.80,82.61 L192.62,83.09 L191.44,83.56 L190.27,84.04 L189.10,84.51 L187.93,84.99 L186.77,85.46 L185.61,85.94 L184.45,86.41 L183.30,86.89 L182.15,87.36 L181.00,87.83 L179.86,88.31 L178.72,88.78 L177.58,89.25 L176.45,89.72 L175.32,90.19 L174.19,90.67 L173.07,91.14 L171.95,91.61 L170.84,92.08 L169.73,92.55 L168.62,93.02 L167.52,93.49 L166.42,93.96 L165.32,94.43 L164.23,94.89 L163.14,95.36 L162.06,95.83 L160.98,96.30 L159.90,96.77 L158.82,97.23 L157.76,97.70 L156.69,98.17 L155.63,98.63 L154.57,99.10 L153.52,99.56 L152.47,100.03 L151.42,100.49 L150.38,100.96 L149.34,101.42 L148.31,101.88 L147.28,102.35 L146.25,102.81 L145.23,103.27 L144.21,103.73 L143.20,104.20 L142.19,104.66 L141.19,105.12 L140.19,105.58 L139.19,106.04 L138.20,106.50 L137.21,106.96 L136.23,107.42 L135.25,107.88 L134.27,108.34 L133.30,108.79 L132.34,109.25 L131.38,109.71 L130.42,110.17 L129.47,110.62 L128.52,111.08 L127.58,111.54 L126.64,111.99 L125.70,112.45 L124.77,112.90 L123.85,113.36 L122.93,113.81 L122.01,114.26 L121.10,114.72 L120.20,115.17 L119.29,115.62 L118.40,116.08 L117.51,116.53 L116.62,116.98 L115.74,117.43 L114.86,117.88 L113.99,118.33 L113.12,118.78 L112.26,119.23 L111.40,119.68 L110.55,120.13 L109.70,120.58 L108.86,121.02 L108.02,121.47 L107.19,121.92 L106.36,122.37 L105.54,122.81 L104.72,123.26 L103.91,123.70 L103.11,124.15 L102.31,124.59 L101.51,125.04 L100.72,125.48 L99.94,125.92 L99.16,126.37 L98.38,126.81 L97.61,127.25 L96.85,127.69 L96.09,128.14 L95.34,128.58 L94.59,129.02 L93.85,129.46 L93.12,129.90 L92.39,130.34 L91.66,130.77 L90.95,131.21 L90.23,131.65 L89.53,132.09 L88.83,132.52 L88.13,132.96 L87.44,133.40 L86.76,133.83 L86.08,134.27 L85.41,134.70 L84.74,135.14 L84.08,135.57 L83.43,136.00 L82.78,136.44 L82.14,136.87 L81.51,137.30 L80.88,137.73 L80.25,138.16 L79.64,138.60 L79.03,139.03 L78.42,139.46 L77.83,139.88 L77.23,140.31 L76.65,140.74 L76.07,141.17 L75.50,141.60 L74.93,142.02 L74.37,142.45 L73.82,142.88 L73.27,143.30 L72.73,143.73 L72.20,144.15 L71.67,144.58 L71.15,145.00 L70.64,145.42 L70.14,145.85 L69.64,146.27 L69.14,146.69 L68.66,147.11 L68.18,147.53 L67.71,147.95 L67.24,148.37 L66.78,148.79 L66.33,149.21 L65.89,149.63 L65.45,150.05 L65.02,150.46 L64.60,150.88 L64.19,151.30 L63.78,151.71 L63.38,152.13 L62.99,152.54 L62.60,152.96 L62.22,153.37 L61.85,153.78 L61.49,154.20 L61.13,154.61 L60.78,155.02 L60.44,155.43 L60.11,155.84 L59.78,156.25 L59.46,156.66 L59.15,157.07 L58.85,157.48 L58.56,157.89 L58.27,158.30 L57.99,158.71 L57.72,159.11 L57.46,159.52 L57.20,159.92 L56.95,160.33 L56.71,160.73 L56.48,161.14 L56.26,161.54 L56.05,161.94 L55.84,162.35 L55.64,162.75 L55.45,163.15 L55.27,163.55 L55.10,163.95 L54.93,164.35 L54.78,164.75 L54.63,165.15 L54.49,165.55 L54.36,165.94 L54.24,166.34 L54.12,166.74 L54.02,167.13 L53.92,167.53 L53.83,167.92 L53.76,168.32 L53.69,168.71 L53.63,169.11 L53.57,169.50 L53.53,169.89 L53.50,170.29 L53.47,170.68 L53.46,171.07 L53.45,171.46 L53.45,171.85 L53.46,172.24 L53.48,172.63 L53.51,173.02 L53.55,173.41 L53.60,173.80 L53.66,174.19 L53.72,174.58 L53.80,174.97 L53.89,175.36 L53.98,175.75 L54.08,176.13 L54.20,176.52 L54.32,176.91 L54.45,177.30 L54.59,177.68 L54.74,178.07 L54.90,178.46 L55.06,178.84 L55.24,179.23 L55.43,179.62 L55.62,180.00 L55.83,180.39 L56.04,180.77 L56.27,181.16 L56.50,181.55 L56.74,181.93 L56.99,182.31 L57.25,182.70 L57.52,183.08 L57.80,183.47 L58.09,183.85 L58.39,184.23 L58.70,184.61 L59.01,184.99 L59.34,185.37 L59.68,185.75 L60.03,186.13 L60.39,186.51 L60.75,186.89 L61.13,187.26 L61.52,187.64 L61.92,188.01 L62.33,188.38 L62.75,188.75 L63.18,189.12 L63.62,189.49 L64.08,189.86 L64.54,190.22 L65.02,190.59 L65.51,190.95 L66.01,191.31 L66.52,191.67 L67.04,192.03 L67.57,192.39 L68.12,192.75 L68.67,193.10 L69.24,193.46 L69.82,193.81 L70.41,194.16 L71.02,194.51 L71.63,194.86 L72.26,195.21 L72.90,195.56 L73.56,195.90 L74.22,196.25 L74.90,196.59 L75.59,196.93 L76.29,197.27 L77.01,197.61 L77.73,197.95 L78.47,198.29 L79.23,198.62 L79.99,198.96 L80.77,199.29 L81.56,199.62 L82.36,199.96 L83.18,200.29 L84.01,200.62 L84.85,200.95 L85.71,201.27 L86.58,201.60 L87.46,201.92 L88.36,202.25 L89.26,202.57 L90.19,202.89 L91.12,203.22 L92.07,203.54 L93.03,203.85 L94.01,204.17 L95.00,204.49 L96.00,204.81 L97.01,205.12 L98.04,205.44 L99.09,205.75 L100.14,206.06 L101.21,206.37 L102.30,206.68 L103.39,206.99 L104.50,207.30 L105.63,207.61 L106.77,207.92 L107.92,208.22 L109.09,208.53 L110.27,208.83 L111.46,209.14 L112.67,209.44 L113.89,209.74 L115.13,210.04 L116.38,210.34 L117.64,210.64 L118.92,210.94 L120.22,211.24 L121.52,211.54 L122.84,211.83 L124.18,212.13 L125.52,212.42 L126.89,212.72 L128.26,213.01 L129.65,213.30 L131.06,213.60 L132.48,213.89 L133.91,214.18 L135.36,214.47 L136.82,214.76 L138.30,215.04 L139.79,215.33 L141.29,215.62 L142.81,215.90 L144.35,216.19 L145.89,216.47 L147.46,216.75 L149.04,217.04 L150.63,217.32 L152.24,217.60 L153.86,217.88 L155.49,218.16 L157.15,218.44 L158.81,218.71 L160.49,218.99 L162.19,219.26 L163.90,219.54 L165.63,219.81 L167.37,220.08 L169.13,220.36 L170.90,220.63 L172.69,220.90 L174.49,221.16 L176.31,221.43 L178.14,221.70 L179.99,221.96 L181.86,222.23 L183.74,222.49 L185.63,222.75 L187.55,223.01 L189.47,223.27 L191.42,223.53 L193.38,223.79 L195.35,224.05 L197.34,224.31 L199.35,224.56 L201.37,224.81 L203.41,225.07 L205.47,225.32 L207.54,225.57 L209.63,225.82 L211.73,226.06 L213.85,226.31 L215.99,226.56 L218.14,226.80 L220.31,227.04 L222.50,227.29 L224.70,227.53 L226.92,227.77 L229.16,228.00 L231.41,228.24 L233.68,228.48 L235.97,228.71 L238.28,228.94 L240.60,229.18 L242.94,229.41 L245.29,229.64 L247.67,229.86 L250.06,230.09 L252.46,230.32 L254.89,230.54 L257.33,230.76 L259.79,230.98 L262.27,231.20 L264.76,231.42 L267.28,231.64 L269.81,231.85 L272.36,232.07 L274.92,232.28 L277.51,232.49 L280.11,232.70 L282.73,232.91 L285.37,233.12 L288.02,233.32 L290.70,233.53 L293.39,233.73 L296.10,233.93 L298.83,234.13 L301.58,234.33 L304.35,234.52 L307.13,234.72 L309.94,234.91 L312.76,235.10 L315.60,235.29 L318.47,235.48 L321.35,235.67 L324.24,235.85 L327.16,236.04 L330.10,236.22 L333.06,236.40 L336.03,236.58 L339.03,236.75 L342.04,236.93 L345.08,237.10 L348.13,237.28 L351.20,237.45 L354.30,237.62 L357.41,237.78 L360.54,237.95 L363.69,238.11 L366.87,238.27 L370.06,238.43 L373.27,238.59 L376.50,238.75 L379.76,238.90 L383.03,239.06 L386.32,239.21 L389.64,239.36 L392.97,239.51 L396.33,239.65 L399.71,239.80 L403.10,239.94 L406.52,240.08 L409.96,240.22" stroke="#996633"/>
<path d="M412.13,5.48 L410.60,5.97 L409.07,6.47 L407.54,6.96 L406.01,7.46 L404.49,7.95 L402.97,8.44 L401.45,8.94 L399.93,9.43 L398.41,9.93 L396.90,10.42 L395.39,10.92 L393.88,11.41 L392.37,11.91 L390.86,12.40 L389.36,12.90 L387.86,13.39 L386.36,13.89 L384.86,14.38 L383.37,14.87 L381.88,15.37 L380.39,15.86 L378.90,16.36 L377.41,16.85 L375.93,17.35 L374.45,17.84 L372.97,18.34 L371.49,18.83 L370.01,19.32 L368.54,19.82 L367.07,20.31 L365.60,20.81 L364.13,21.30 L362.67,21.79 L361.20,22.29 L359.74,22.78 L358.28,23.28 L356.83,23.77 L355.37,24.26 L353.92,24.76 L352.47,25.25 L351.02,25.75 L349.58,26.24 L348.13,26.73 L346.69,27.23 L345.25,27.72 L343.81,28.21 L342.38,28.71 L340.95,29.20 L339.52,29.69 L338.09,30.18 L336.66,30.68 L335.24,31.17 L333.82,31.66 L332.40,32.16 L330.98,32.65 L329.56,33.14 L328.15,33.63 L326.74,34.13 L325.33,34.62 L323.92,35.11 L322.52,35.60 L321.12,36.09 L319.72,36.59 L318.32,37.08 L316.93,37.57 L315.53,38.06 L314.14,38.55 L312.75,39.04 L311.37,39.53 L309.98,40.03 L308.60,40.52 L307.22,41.01 L305.84,41.50 L304.47,41.99 L303.10,42.48 L301.73,42.97 L300.36,43.46 L298.99,43.95 L297.63,44.44 L296.27,44.93 L294.91,45.42 L293.55,45.91 L292.20,46.40 L290.85,46.89 L289.50,47.38 L288.15,47.86 L286.81,48.35 L285.46,48.84 L284.12,49.33 L282.79,49.82 L281.45,50.31 L280.12,50.79 L278.79,51.28 L277.46,51.77 L276.13,52.26 L274.81,52.74 L273.49,53.23 L272.17,53.72 L270.86,54.21 L269.54,54.69 L268.23,55.18 L266.92,55.67 L265.62,56.15 L264.32,56.64 L263.01,57.12 L261.72,57.61 L260.42,58.09 L259.13,58.58 L257.84,59.06 L256.55,59.55 L255.26,60.03 L253.98,60.52 L252.70,61.00 L251.42,61.49 L250.15,61.97 L248.87,62.45 L247.60,62.94 L246.34,63.42 L245.07,63.90 L243.81,64.39 L242.55,64.87 L241.29,65.35 L240.04,65.83 L238.79,66.32 L237.54,66.80 L236.30,67.28 L235.05,67.76 L233.81,68.24 L232.57,68.72 L231.34,69.20 L230.11,69.68 L228.88,70.16 L227.65,70.64 L226.43,71.12 L225.21,71.60 L223.99,72.08 L222.77,72.56 L221.56,73.04 L220.35,73.52 L219.15,74.00 L217.94,74.47 L216.74,74.95 L215.55,75.43 L214.35,75.91 L213.16,76.38 L211.97,76.86 L210.78,77.34 L209.60,77.81 L208.42,78.29 L207.24,78.76 L206.07,79.24 L204.90,79.71 L203.73,80.19 L202.57,80.66 L201.41,81.14 L200.25,81.61 L199.09,82.09 L197.94,82.56 L196.79,83.03 L195.65,83.51 L194.50,83.98 L193.36,84.45 L192.23,84.92 L191.10,85.39 L189.97,85.87 L188.84,86.34 L187.72,86.81 L186.60,87.28 L185.48,87.75 L184.37,88.22 L183.26,88.69 L182.15,89.16 L181.05,89.63 L179.95,90.09 L178.85,90.56 L177.76,91.03 L176.67,91.50 L175.59,91.97 L174.50,92.43 L173.42,92.90 L172.35,93.37 L171.28,93.83 L170.21,94.30 L169.14,94.76 L168.08,95.23 L167.03,95.69 L165.97,96.16 L164.92,96.62 L163.88,97.08 L162.83,97.55 L161.79,98.01 L160.76,98.47 L159.73,98.94 L158.70,99.40 L157.68,99.86 L156.66,100.32 L155.64,100.78 L154.63,101.24 L153.62,101.70 L152.61,102.16 L151.61,102.62 L150.62,103.08 L149.62,103.54 L148.63,104.00 L147.65,104.46 L146.67,104.91 L145.69,105.37 L144.72,105.83 L143.75,106.28 L142.78,106.74 L141.82,107.20 L140.87,107.65 L139.92,108.11 L138.97,108.56 L138.02,109.02 L137.08,109.47 L136.15,109.92 L135.22,110.38 L134.29,110.83 L133.37,111.28 L132.45,111.73 L131.54,112.18 L130.63,112.63 L129.72,113.09 L128.82,113.54 L127.93,113.99 L127.04,114.43 L126.15,114.88 L125.27,115.33 L124.39,115.78 L123.52,116.23 L122.65,116.67 L121.78,117.12 L120.92,117.57 L120.07,118.01 L119.22,118.46 L118.38,118.90 L117.54,119.35 L116.70,119.79 L115.87,120.24 L115.04,120.68 L114.22,121.12 L113.41,121.57 L112.60,122.01 L111.79,122.45 L110.99,122.89 L110.19,123.33 L109.40,123.77 L108.62,124.21 L107.84,124.65 L107.06,125.09 L106.29,125.53 L105.53,125.97 L104.77,126.40 L104.01,126.84 L103.26,127.28 L102.52,127.71 L101.78,128.15 L101.04,128.58 L100.32,129.02 L99.59,129.45 L98.88,129.89 L98.17,130.32 L97.46,130.75 L96.76,131.18 L96.06,131.62 L95.37,132.05 L94.69,132.48 L94.01,132.91 L93.34,133.34 L92.67,133.77 L92.01,134.20 L91.36,134.63 L90.71,135.05 L90.06,135.48 L89.43,135.91 L88.80,136.33 L88.17,136.76 L87.55,137.18 L86.94,137.61 L86.33,138.03 L85.73,138.46 L85.13,138.88 L84.54,139.30 L83.96,139.72 L83.38,140.15 L82.81,140.57 L82.25,140.99 L81.69,141.41 L81.14,141.83 L80.60,142.25 L80.06,142.67 L79.52,143.08 L79.00,143.50 L78.48,143.92 L77.97,144.33 L77.46,144.75 L76.96,145.16 L76.47,145.58 L75.98,145.99 L75.51,146.41 L75.03,146.82 L74.57,147.23 L74.11,147.64 L73.66,148.06 L73.21,148.47 L72.78,148.88 L72.34,149.29 L71.92,149.69 L71.50,150.10 L71.10,150.51 L70.69,150.92 L70.30,151.32 L69.91,151.73 L69.53,152.14 L69.16,152.54 L68.79,152.95 L68.43,153.35 L68.08,153.75 L67.74,154.16 L67.40,154.56 L67.08,154.96 L66.76,155.36 L66.44,155.76 L66.14,156.16 L65.84,156.56 L65.55,156.96 L65.27,157.36 L64.99,157.75 L64.73,158.15 L64.47,158.55 L64.22,158.94 L63.98,159.34 L63.74,159.73 L63.52,160.12 L63.30,160.52 L63.09,160.91 L62.89,161.30 L62.70,161.69 L62.51,162.08 L62.34,162.47 L62.17,162.86 L62.01,163.25 L61.86,163.64 L61.72,164.02 L61.59,164.41 L61.46,164.80 L61.35,165.18 L61.24,165.57 L61.14,165.95 L61.05,166.34 L60.97,166.72 L60.90,167.10 L60.84,167.49 L60.78,167.87 L60.74,168.25 L60.70,168.63 L60.68,169.01 L60.66,169.39 L60.65,169.77 L60.65,170.15 L60.66,170.53 L60.68,170.91 L60.71,171.29 L60.75,171.67 L60.80,172.05 L60.85,172.43 L60.92,172.81 L60.99,173.19 L61.08,173.56 L61.17,173.94 L61.27,174.32 L61.38,174.70 L61.51,175.07 L61.64,175.45 L61.78,175.83 L61.92,176.21 L62.08,176.58 L62.25,176.96 L62.43,177.34 L62.61,177.71 L62.81,178.09 L63.01,178.47 L63.22,178.85 L63.44,179.22 L63.68,179.60 L63.92,179.97 L64.17,180.35 L64.43,180.72 L64.70,181.10 L64.97,181.47 L65.26,181.85 L65.56,182.22 L65.87,182.59 L66.19,182.97 L66.51,183.34 L66.85,183.71 L67.20,184.08 L67.55,184.45 L67.92,184.82 L68.30,185.19 L68.68,185.55 L69.08,185.92 L69.49,186.29 L69.91,186.65 L70.33,187.02 L70.77,187.38 L71.22,187.74 L71.68,188.10 L72.16,188.46 L72.64,188.82 L73.13,189.18 L73.64,189.53 L74.15,189.89 L74.68,190.24 L75.22,190.60 L75.77,190.95 L76.33,191.30 L76.91,191.65 L77.49,191.99 L78.09,192.34 L78.70,192.69 L79.32,193.03 L79.96,193.37 L80.60,193.72 L81.26,194.06 L81.93,194.40 L82.61,194.74 L83.30,195.08 L84.01,195.41 L84.73,195.75 L85.46,196.08 L86.20,196.42 L86.96,196.75 L87.72,197.08 L88.50,197.41 L89.30,197.74 L90.10,198.07 L90.92,198.40 L91.75,198.72 L92.60,199.05 L93.45,199.37 L94.32,199.70 L95.21,200.02 L96.10,200.34 L97.01,200.66 L97.93,200.98 L98.87,201.30 L99.81,201.62 L100.77,201.94 L101.75,202.25 L102.73,202.57 L103.73,202.88 L104.75,203.19 L105.77,203.51 L106.81,203.82 L107.86,204.13 L108.93,204.44 L110.01,204.75 L111.10,205.06 L112.21,205.37 L113.33,205.67 L114.46,205.98 L115.61,206.28 L116.77,206.59 L117.94,206.89 L119.13,207.19 L120.33,207.50 L121.54,207.80 L122.77,208.10 L124.01,208.40 L125.26,208.70 L126.53,209.00 L127.81,209.29 L129.10,209.59 L130.41,209.89 L131.73,210.18 L133.07,210.48 L134.42,210.77 L135.78,211.06 L137.15,211.36 L138.54,211.65 L139.95,211.94 L141.37,212.23 L142.80,212.52 L144.24,212.81 L145.70,213.10 L147.17,213.38 L148.66,213.67 L150.16,213.96 L151.68,214.24 L153.21,214.52 L154.75,214.81 L156.31,215.09 L157.88,215.37 L159.47,215.65 L161.07,215.93 L162.69,216.21 L164.32,216.49 L165.96,216.76 L167.62,217.04 L169.30,217.31 L170.98,217.59 L172.69,217.86 L174.41,218.13 L176.14,218.40 L177.89,218.67 L179.65,218.94 L181.43,219.21 L183.22,219.48 L185.03,219.75 L186.85,220.01 L188.69,220.27 L190.55,220.54 L192.41,220.80 L194.30,221.06 L196.20,221.32 L198.11,221.58 L200.04,221.84 L201.99,222.09 L203.95,222.35 L205.93,222.60 L207.92,222.86 L209.93,223.11 L211.96,223.36 L214.00,223.61 L216.05,223.86 L218.13,224.10 L220.21,224.35 L222.32,224.60 L224.44,224.84 L226.58,225.08 L228.73,225.32 L230.90,225.56 L233.09,225.80 L235.29,226.04 L237.51,226.28 L239.74,226.51 L242.00,226.75 L244.26,226.98 L246.55,227.21 L248.85,227.44 L251.17,227.67 L253.51,227.89 L255.86,228.12 L258.23,228.35 L260.62,228.57 L263.02,228.79 L265.45,229.01 L267.88,229.23 L270.34,229.45 L272.81,229.66 L275.31,229.88 L277.82,230.09 L280.34,230.30 L282.89,230.52 L285.45,230.72 L288.03,230.93 L290.63,231.14 L293.24,231.34 L295.87,231.55 L298.53,231.75 L301.20,231.95 L303.88,232.15 L306.59,232.34 L309.32,232.54 L312.06,232.73 L314.82,232.93 L317.60,233.12 L320.40,233.31 L323.22,233.50 L326.05,233.68 L328.91,233.87 L331.78,234.05 L334.68,234.23 L337.59,234.41 L340.52,234.59 L343.47,234.77 L346.44,234.94 L349.43,235.11 L352.44,235.29 L355.47,235.46 L358.51,235.62 L361.58,235.79 L364.67,235.96 L367.77,236.12 L370.90,236.28 L374.05,236.44 L377.22,236.60 L380.40,236.75 L383.61,236.91 L386.84,237.06 L390.08,237.21 L393.35,237.36 L396.64,237.51 L399.95,237.65 L403.28,237.80 L406.63,237.94 L410.00,238.08" stroke="#0000ff"/>
<path d="M410.60,5.17 L409.07,5.67 L407.54,6.18 L406.01,6.68 L404.48,7.19 L402.95,7.69 L401.42,8.20 L399.90,8.70 L398.37,9.20 L396.85,9.71 L395.33,10.21 L393.81,10.71 L392.29,11.22 L390.78,11.72 L389.27,12.22 L387.75,12.73 L386.24,13.23 L384.73,13.73 L383.23,14.24 L381.72,14.74 L380.22,15.24 L378.71,15.75 L377.21,16.25 L375.72,16.75 L374.22,17.25 L372.72,17.76 L371.23,18.26 L369.74,18.76 L368.25,19.26 L366.76,19.76 L365.27,20.27 L363.79,20.77 L362.30,21.27 L360.82,21.77 L359.34,22.27 L357.86,22.77 L356.39,23.27 L354.91,23.77 L353.44,24.28 L351.97,24.78 L350.50,25.28 L349.03,25.78 L347.57,26.28 L346.10,26.78 L344.64,27.28 L343.18,27.78 L341.72,28.28 L340.27,28.78 L338.81,29.28 L337.36,29.78 L335.91,30.28 L334.46,30.78 L333.01,31.27 L331.57,31.77 L330.12,32.27 L328.68,32.77 L327.24,33.27 L325.81,33.77 L324.37,34.27 L322.94,34.76 L321.51,35.26 L320.08,35.76 L318.65,36.26 L317.22,36.75 L315.80,37.25 L314.38,37.75 L312.96,38.24 L311.54,38.74 L310.13,39.24 L308.71,39.73 L307.30,40.23 L305.89,40.73 L304.49,41.22 L303.08,41.72 L301.68,42.21 L300.28,42.71 L298.88,43.20 L297.48,43.70 L296.09,44.19 L294.70,44.69 L293.31,45.18 L291.92,45.68 L290.53,46.17 L289.15,46.67 L287.77,47.16 L286.39,47.65 L285.01,48.15 L283.64,48.64 L282.27,49.13 L280.90,49.63 L279.53,50.12 L278.17,50.61 L276.80,51.10 L275.44,51.59 L274.08,52.09 L272.73,52.58 L271.37,53.07 L270.02,53.56 L268.67,54.05 L267.33,54.54 L265.98,55.03 L264.64,55.52 L263.30,56.01 L261.97,56.50 L260.63,56.99 L259.30,57.48 L257.97,57.97 L256.64,58.46 L255.32,58.95 L254.00,59.44 L252.68,59.93 L251.36,60.42 L250.05,60.90 L248.74,61.39 L247.43,61.88 L246.12,62.37 L244.82,62.85 L243.52,63.34 L242.22,63.83 L240.92,64.31 L239.63,64.80 L238.34,65.29 L237.05,65.77 L235.77,66.26 L234.48,66.74 L233.20,67.23 L231.93,67.71 L230.65,68.20 L229.38,68.68 L228.11,69.16 L226.85,69.65 L225.59,70.13 L224.33,70.62 L223.07,71.10 L221.81,71.58 L220.56,72.06 L219.31,72.55 L218.07,73.03 L216.83,73.51 L215.59,73.99 L214.35,74.47 L213.12,74.95 L211.89,75.43 L210.66,75.91 L209.43,76.39 L208.21,76.87 L206.99,77.35 L205.78,77.83 L204.57,78.31 L203.36,78.79 L202.15,79.27 L200.95,79.75 L199.75,80.22 L198.55,80.70 L197.36,81.18 L196.17,81.66 L194.98,82.13 L193.80,82.61 L192.62,83.09 L191.44,83.56 L190.27,84.04 L189.10,84.51 L187.93,84.99 L186.77,85.46 L185.61,85.94 L184.45,86.41 L183.30,86.89 L182.15,87.36 L181.00,87.83 L179.86,88.31 L178.72,88.78 L177.58,89.25 L176.45,89.72 L175.32,90.19 L174.19,90.67 L173.07,91.14 L171.95,91.61 L170.84,92.08 L169.73,92.55 L168.62,93.02 L167.52,93.49 L166.42,93.96 L165.32,94.43 L164.23,94.89 L163.14,95.36 L162.06,95.83 L160.98,96.30 L159.90,96.77 L158.82,97.23 L157.76,97.70 L156.69,98.17 L155.63,98.63 L154.57,99.10 L153.52,99.56 L152.47,100.03 L151.42,100.49 L150.38,100.96 L149.34,101.42 L148.31,101.88 L147.28,102.35 L146.25,102.81 L145.23,103.27 L144.21,103.73 L143.20,104.20 L142.19,104.66 L141.19,105.12 L140.19,105.58 L139.19,106.04 L138.20,106.50 L137.21,106.96 L136.23,107.42 L135.25,107.88 L134.27,108.34 L133.30,108.79 L132.34,109.25 L131.38,109.71 L130.42,110.17 L129.47,110.62 L128.52,111.08 L127.58,111.54 L126.64,111.99 L125.70,112.45 L124.77,112.90 L123.85,113.36 L122.93,113.81 L122.01,114.26 L121.10,114.72 L120.20,115.17 L119.29,115.62 L118.40,116.08 L117.51,116.53 L116.62,116.98 L115.74,117.43 L114.86,117.88 L113.99,118.33 L113.12,118.78 L112.26,119.23 L111.40,119.68 L110.55,120.13 L109.70,120.58 L108.86,121.02 L108.02,121.47 L107.19,121.92 L106.36,122.37 L105.54,122.81 L104.72,123.26 L103.91,123.70 L103.11,124.15 L102.31,124.59 L101.51,125.04 L100.72,125.48 L99.94,125.92 L99.16,126.37 L98.38,126.81 L97.61,127.25 L96.85,127.69 L96.09,128.14 L95.34,128.58 L94.59,129.02 L93.85,129.46 L93.12,129.90 L92.39,130.34 L91.66,130.77 L90.95,131.21 L90.23,131.65 L89.53,132.09 L88.83,132.52 L88.13,132.96 L87.44,133.40 L86.76,133.83 L86.08,134.27 L85.41,134.70 L84.74,135.14 L84.08,135.57 L83.43,136.00 L82.78,136.44 L82.14,136.87 L81.51,137.30 L80.88,137.73 L80.25,138.16 L79.64,138.60 L79.03,139.03 L78.42,139.46 L77.83,139.88 L77.23,140.31 L76.65,140.74 L76.07,141.17 L75.50,141.60 L74.93,142.02 L74.37,142.45 L73.82,142.88 L73.27,143.30 L72.73,143.73 L72.20,144.15 L71.67,144.58 L71.15,145.00 L70.64,145.42 L70.14,145.85 L69.64,146.27 L69.14,146.69 L68.66,147.11 L68.18,147.53 L67.71,147.95 L67.24,148.37 L66.78,148.79 L66.33,149.21 L65.89,149.63 L65.45,150.05 L65.02,150.46 L64.60,150.88 L64.19,151.30 L63.78,151.71 L63.38,152.13 L62.99,152.54 L62.60,152.96 L62.22,153.37 L61.85,153.78 L61.49,154.20 L61.13,154.61 L60.78,155.02 L60.44,155.43 L60.11,155.84 L59.78,156.25 L59.46,156.66 L59.15,157.07 L58.85,157.48 L58.56,157.89 L58.27,158.30 L57.99,158.71 L57.72,159.11 L57.46,159.52 L57.20,159.92 L56.95,160.33 L56.71,160.73 L56.48,161.14 L56.26,161.54 L56.05,161.94 L55.84,162.35 L55.64,162.75 L55.45,163.15 L55.27,163.55 L55.10,163.95 L54.93,164.35 L54.78,164.75 L54.63,165.15 L54.49,165.55 L54.36,165.94 L54.24,166.34 L54.12,166.74 L54.02,167.13 L53.92,167.53 L53.83,167.92 L53.76,168.32 L53.69,168.71 L53.63,169.11 L53.57,169.50 L53.53,169.89 L53.50,170.29 L53.47,170.68 L53.46,171.07 L53.45,171.46" stroke="#996633"/>
<path d="M36.7,323.05 L410,320.0" stroke="#ff0000" stroke-dasharray="7 2.44" stroke-width="2.35"/>
<path d="M36.7,336.53 L410,334.65" stroke="#ff7f00" stroke-dasharray="7 2.44" stroke-width="2.35"/>
<path d="M36.7,342.87 L410,341.3" stroke="#006600" stroke-dasharray="7 2.44" stroke-width="2.35"/>
<path d="M36.7,346.22 L410,345.2" stroke="#0000ff" stroke-dasharray="7 2.44" stroke-width="2.35"/>
<path d="M36.7,347.72 L410,346.4" stroke="#996633" stroke-dasharray="7 2.44" stroke-width="2.35"/>
</g>
<rect x="328.9" y="60.6" width="77.8" height="122.1" fill="#f4f4f4" stroke="#b4b4b4" stroke-width="1"/>
<path d="M331,68.6 H354" stroke="#ff0000" stroke-width="1.9" fill="none"/>
<path d="M331,95.9 H354" stroke="#ff7f00" stroke-width="1.9" fill="none"/>
<path d="M331,120.7 H354" stroke="#006600" stroke-width="1.9" fill="none"/>
<path d="M331,144.7 H354" stroke="#0000ff" stroke-width="1.9" fill="none"/>
<path d="M331,172.7 H354" stroke="#996633" stroke-width="1.9" fill="none"/>
</svg>
<div class="t yl" style="top:366.8px">0</div>
<div class="t yl" style="top:310.3px">10</div>
<div class="t yl" style="top:253.7px">20</div>
<div class="t yl" style="top:197.2px">30</div>
<div class="t yl" style="top:140.7px">40</div>
<div class="t yl" style="top:84.2px">50</div>
<div class="t yl" style="top:27.6px">60</div>
<div class="t xl" style="left:21.4px;top:378.4px">0.575</div>
<div class="t xl" style="left:93.0px;top:378.4px">0.580</div>
<div class="t xl" style="left:164.6px;top:378.4px">0.585</div>
<div class="t xl" style="left:236.2px;top:378.4px">0.590</div>
<div class="t xl" style="left:307.8px;top:378.4px">0.595</div>
<div class="t xl" style="left:379.4px;top:378.4px">0.600</div>
<div class="lg" style="top:62.0px"><i>κ</i><span class="eq">=</span>0</div>
<div class="lg" style="top:89.3px"><i>κ</i><span class="eq">=</span>10<sup style="top:-5.2px">−1</sup></div>
<div class="lg" style="top:114.1px"><i>κ</i><span class="eq">=</span>1</div>
<div class="lg" style="top:138.1px"><i>κ</i><span class="eq">=</span>10</div>
<div class="lg" style="top:166.1px"><i>κ</i><span class="eq">=</span>10<sup style="top:-5.2px">2</sup></div>
<div class="t" style="left:0.1px;top:180.6px;font-size:16.6px"><span style="display:inline-block;transform:scaleX(0.92);transform-origin:0 0">Q</span><span style="font-size:12.6px;position:relative;top:2.3px;left:0.2px">E</span></div>
<div class="t" style="left:223.9px;top:404.8px;font-size:16px;transform:scaleX(1.14);transform-origin:50% 50%">Ω</div>
<svg width="425" height="423" viewBox="0 0 425 423" style="position:absolute;left:0;top:0" fill="none" stroke="#000" stroke-width="1.0" stroke-linecap="round">
<path d="M3.3,180.5 C3.9,179.3 5.0,179.3 5.9,179.85 S7.9,180.4 8.5,179.2"/>
<path d="M226.8,403.6 C227.4,402.4 228.5,402.4 229.4,402.95 S231.4,403.5 232.1,402.3"/>
</svg>
</body></html>
